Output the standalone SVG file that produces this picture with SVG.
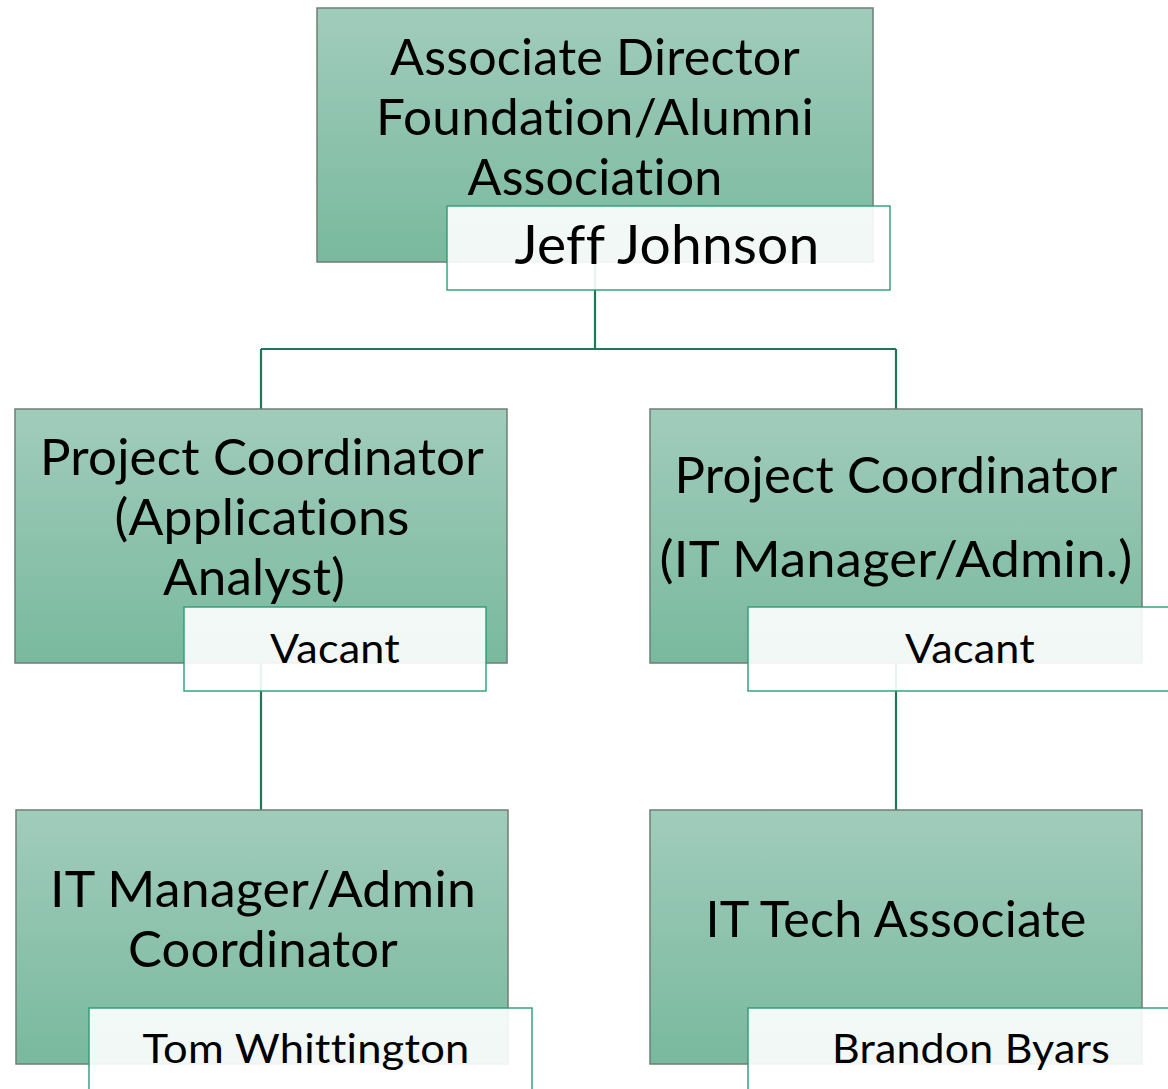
<svg xmlns="http://www.w3.org/2000/svg" width="1168" height="1089" viewBox="0 0 1168 1089">
<defs>
<linearGradient id="g" x1="0" y1="0" x2="0" y2="1">
<stop offset="0" stop-color="#a1ccbc"/>
<stop offset="1" stop-color="#79b99e"/>
</linearGradient>
<style>
.box{fill:url(#g);stroke:#6d7f76;stroke-width:1.5}
.nm{fill:#ffffff;fill-opacity:0.9;stroke:#2a9d78;stroke-width:1.4}
.t,.n{font-family:Lato,"Liberation Sans",sans-serif;fill:#000;text-anchor:middle;font-variant-ligatures:none;font-feature-settings:"liga" 0,"clig" 0,"dlig" 0;letter-spacing:0.2px}
.t{font-size:50px}
.n{font-size:41px}
.conn{stroke:#1b785a;stroke-width:2.2;fill:none}
</style>
</defs>
<rect width="1168" height="1089" fill="#ffffff"/>
<g id="connectors">
<path class="conn" d="M595,262 V349 M261,349 H896 M261,349 V409 M896,349 V409"/>
<path class="conn" d="M261,663 V810"/>
<path class="conn" d="M896,663 V810"/>
</g>
<g id="node-director">
<rect class="box" x="317" y="8" width="556" height="254"/>
<text class="t" x="595" y="75" textLength="410" lengthAdjust="spacingAndGlyphs">Associate Director</text>
<text class="t" x="595" y="135" textLength="438" lengthAdjust="spacingAndGlyphs">Foundation/Alumni</text>
<text class="t" x="595" y="195" textLength="255" lengthAdjust="spacingAndGlyphs">Association</text>
<rect class="nm" x="447" y="206" width="443" height="84"/>
<text class="n" x="667" y="264" style="font-size:54px" textLength="305" lengthAdjust="spacingAndGlyphs">Jeff Johnson</text>
</g>
<g id="node-pc-apps">
<rect class="box" x="15" y="409" width="492" height="254"/>
<text class="t" x="262" y="475" textLength="444" lengthAdjust="spacingAndGlyphs">Project Coordinator</text>
<text class="t" x="262" y="535" textLength="295" lengthAdjust="spacingAndGlyphs">(Applications</text>
<text class="t" x="254" y="595" textLength="182" lengthAdjust="spacingAndGlyphs">Analyst)</text>
<rect class="nm" x="184" y="607" width="302" height="84"/>
<text class="n" x="335" y="663" textLength="130" lengthAdjust="spacingAndGlyphs">Vacant</text>
</g>
<g id="node-pc-it">
<rect class="box" x="650" y="409" width="492" height="254"/>
<text class="t" x="896" y="493" textLength="443" lengthAdjust="spacingAndGlyphs">Project Coordinator</text>
<text class="t" x="896" y="577" textLength="473" lengthAdjust="spacingAndGlyphs">(IT Manager/Admin.)</text>
<rect class="nm" x="748" y="607" width="443" height="84"/>
<text class="n" x="970" y="663" textLength="130" lengthAdjust="spacingAndGlyphs">Vacant</text>
</g>
<g id="node-it-manager">
<rect class="box" x="16" y="810" width="492" height="254"/>
<text class="t" x="263" y="907" textLength="426" lengthAdjust="spacingAndGlyphs">IT Manager/Admin</text>
<text class="t" x="263" y="967" textLength="270" lengthAdjust="spacingAndGlyphs">Coordinator</text>
<rect class="nm" x="89" y="1008" width="443" height="100"/>
<text class="n" x="306" y="1063" textLength="327" lengthAdjust="spacingAndGlyphs">Tom Whittington</text>
</g>
<g id="node-it-tech">
<rect class="box" x="650" y="810" width="492" height="254"/>
<text class="t" x="896" y="937" textLength="381" lengthAdjust="spacingAndGlyphs">IT Tech Associate</text>
<rect class="nm" x="748" y="1008" width="443" height="100"/>
<text class="n" x="971" y="1063" textLength="278" lengthAdjust="spacingAndGlyphs">Brandon Byars</text>
</g>
</svg>
